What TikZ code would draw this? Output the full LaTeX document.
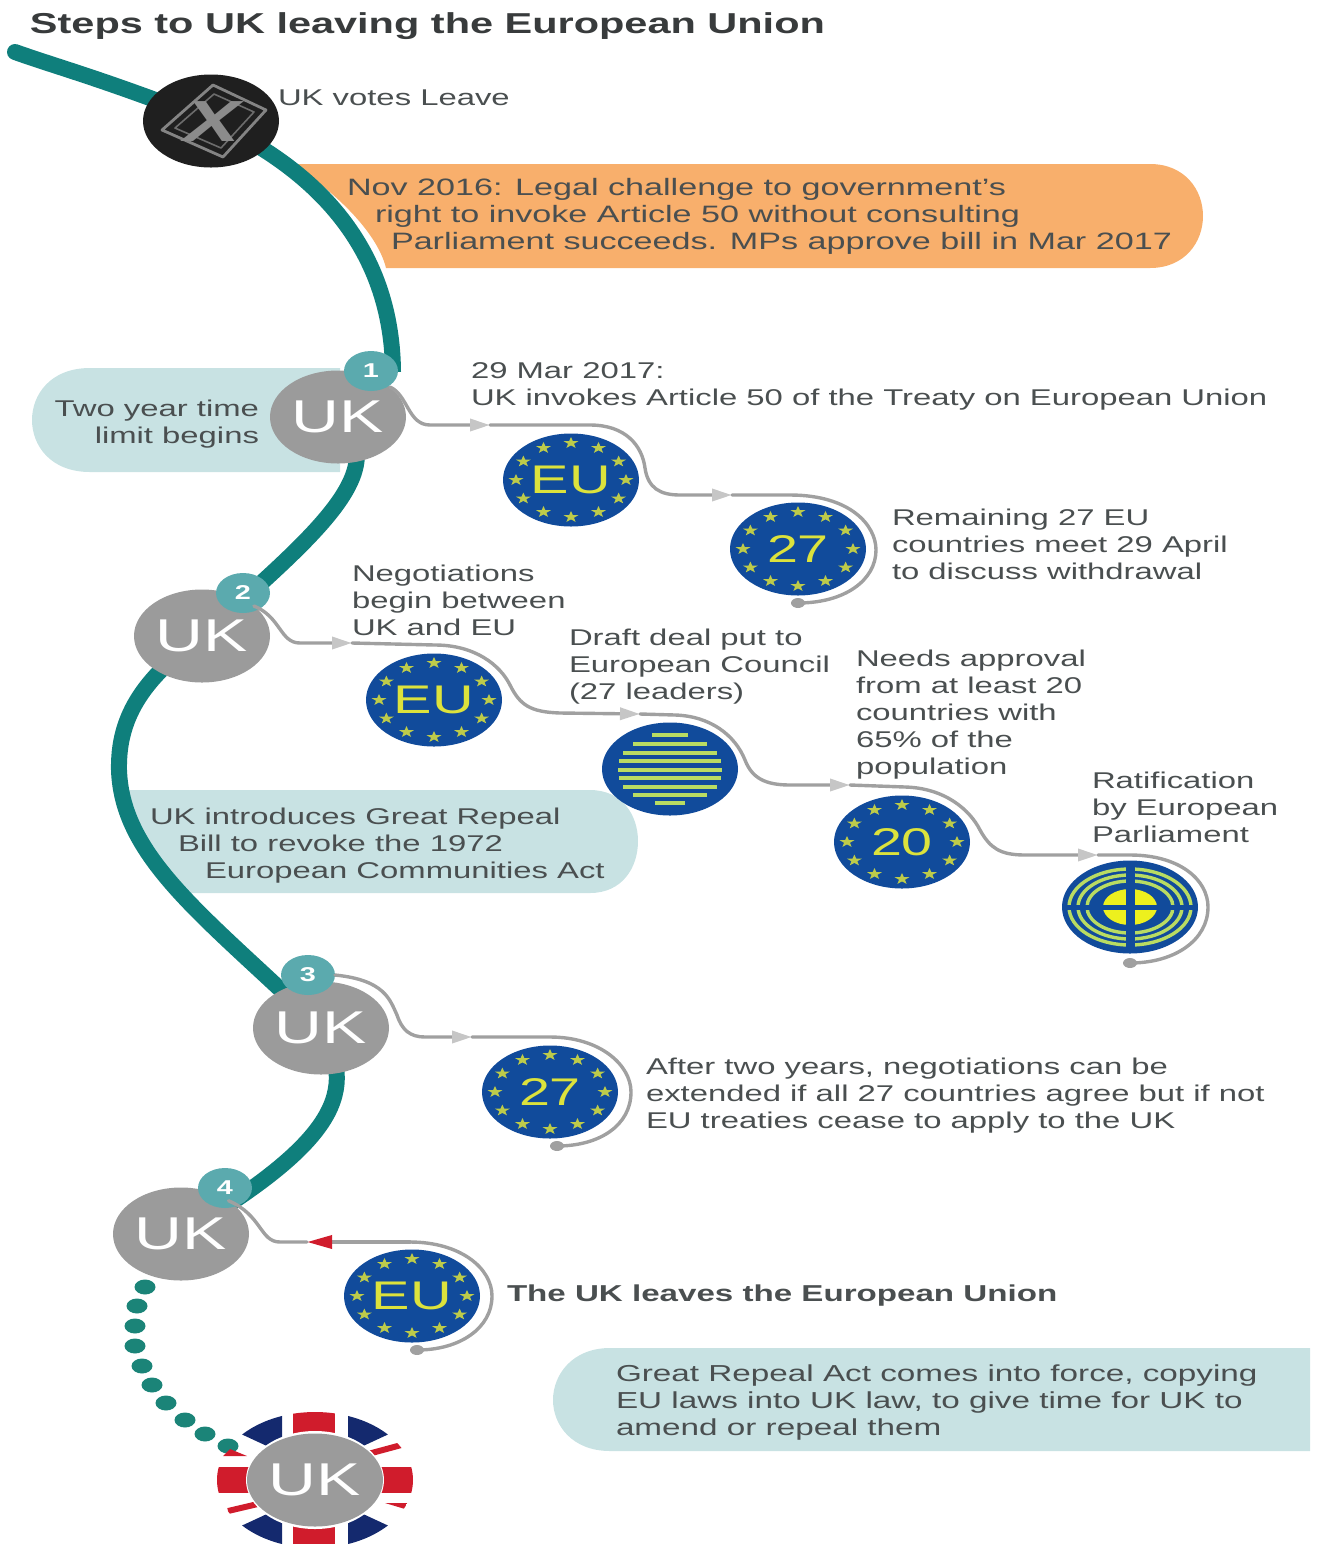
\documentclass[tikz,border=0pt]{standalone}
\usepackage{fontspec}
\setmainfont[FakeStretch=1.44]{Liberation Sans}
\usetikzlibrary{shapes.geometric,arrows.meta}
\definecolor{teal1}{HTML}{0F7F7C}
\definecolor{tealdot}{HTML}{1B8478}
\definecolor{badge}{HTML}{5BAAAE}
\definecolor{ukgrey}{HTML}{9B9B9B}
\definecolor{pale}{HTML}{C8E2E3}
\definecolor{orangeb}{HTML}{F8AF6C}
\definecolor{eublue}{HTML}{114B9B}
\definecolor{euyel}{HTML}{DCE23C}
\definecolor{stripe}{HTML}{B9DC62}
\definecolor{txt}{HTML}{4A4F50}
\definecolor{conn}{HTML}{A0A0A0}
\definecolor{navy}{HTML}{14296E}
\definecolor{flagred}{HTML}{D01C2C}
\newcommand{\eustars}[2]{%
  \foreach \a in {0,30,...,330}{%
    \begin{scope}[shift={(#1,#2)}]
      \begin{scope}[shift={(\a:55 and 37)},xscale=1.3]
        \fill[euyel!85!eublue] (-90:6) -- (-54:2.4) -- (-18:6) -- (18:2.4) -- (54:6) -- (90:2.4) -- (126:6) -- (162:2.4) -- (198:6) -- (234:2.4) -- cycle;
      \end{scope}
    \end{scope}}}
\tikzset{
  every node/.style={inner sep=0pt,outer sep=0pt},
  body/.style={font=\fontsize{11.4}{13.5}\selectfont,text=txt,align=left,anchor=west},
  bodyr/.style={body,align=right,anchor=east},
  disc/.style={ellipse,minimum width=68pt,minimum height=46.5pt},
  ukn/.style={disc,fill=ukgrey,text=white,font=\fontsize{23}{23}\selectfont},
  eun/.style={disc,fill=eublue,text=euyel,font=\fontsize{20}{20}\selectfont},
  numn/.style={disc,fill=eublue,text=euyel,font=\fontsize{19.3}{19.3}\selectfont},
  badgen/.style={ellipse,minimum width=27pt,minimum height=20pt,fill=badge,text=white,font=\bfseries\fontsize{10}{10}\selectfont},
  mainline/.style={draw=teal1,line width=8pt},
  connector/.style={draw=conn,line width=1.7pt,line cap=round},
  head/.style={-{Triangle[length=10pt,width=6pt,color=#1]}},
  head/.default={conn!60},
  redhead/.style={-{Triangle[length=12.5pt,width=6.5pt,color=flagred]}}
}
\begin{document}
\begin{tikzpicture}[x=0.5pt,y=-0.5pt]
\useasboundingbox (0,0) rectangle (1336,1544);
% pale and orange bands
\fill[orangeb] (292,164) -- (1150,164) .. controls (1185,164) and (1203,190) .. (1203,216) .. controls (1203,242) and (1185,268) .. (1150,268) -- (386,268) .. controls (378,235) and (340,195) .. (292,164) -- cycle;
\fill[pale] (340,368) -- (90,368) .. controls (50,368) and (32,395) .. (32,420) .. controls (32,445) and (50,472) .. (90,472) -- (340,472) -- cycle;
\fill[pale] (120,790) -- (590,790) .. controls (622,790) and (638,815) .. (638,841) .. controls (638,868) and (622,893) .. (590,893) -- (190,893) .. controls (155,865) and (130,830) .. (120,790) -- cycle;
\fill[pale] (1310,1348) -- (610,1348) .. controls (572,1348) and (553,1375) .. (553,1400) .. controls (553,1425) and (572,1451) .. (610,1451) -- (1310,1451) -- cycle;
% title
\node[anchor=west,font=\bfseries\fontsize{14.4}{16}\selectfont,text=txt!75!black] (title) at (30,26.5) {Steps to UK leaving the European Union};
% main line, from the centres of the discs drawn over it
\coordinate (voteC) at (211,121);
\coordinate (uk1C) at (338,417);
\coordinate (uk2C) at (202,636);
\coordinate (uk3C) at (321,1028);
\coordinate (uk4C) at (181,1234);
\coordinate (b1C) at (393,372);
\coordinate (lineS) at (15,52);
\path[mainline,line cap=round] (lineS) .. controls (60,68) and (100,78) .. (voteC);
\path[mainline] (voteC) .. controls (300,162) and (392,235) .. (b1C);
\path[mainline] (uk1C) .. controls (395,470) and (315,535) .. (uk2C);
\path[mainline] (uk2C) .. controls (140,680) and (118,720) .. (119,770) .. controls (122,860) and (210,920) .. (uk3C);
\path[mainline] (uk3C) .. controls (357,1090) and (340,1140) .. (uk4C);
% discs
\node[disc,fill=black!88] (vote) at (voteC) {};
\draw[ukgrey!85!black,line width=1.4pt,line join=round] (213,85) -- (266,110) -- (223,157) -- (162,130) -- cycle;
\draw[ukgrey!70!black,line width=0.8pt,line join=round] (214,94) -- (254,112) -- (221,148) -- (175,128) -- cycle;
\node[font=\bfseries\itshape\fontsize{29}{29}\selectfont,text=ukgrey!90!black] (xmark) at (212,122) {X};
\node[ukn] (uk1) at (uk1C) {UK};
\node[ukn] (uk2) at (uk2C) {UK};
\node[ukn] (uk3) at (uk3C) {UK};
\node[ukn] (uk4) at (uk4C) {UK};
\node[badgen] (b1) at (371,371) {1};
\node[badgen] (b2) at (243,593) {2};
\node[badgen] (b3) at (308,975) {3};
\node[badgen] (b4) at (225,1188) {4};
% EU discs
\node[eun] (eu1) at (571,480) {EU};
\eustars{571}{480}
\node[numn] (n27a) at (798,549) {27};
\eustars{798}{549}
\node[eun] (eu2) at (434,700) {EU};
\eustars{434}{700}
\node[disc,fill=eublue] (council) at (670,769) {};
\foreach \yy/\hw in {735/18,744/37,753/47,761/51,770/52,778/51,787/47,795/37,803/15}
  \draw[stripe,line width=2pt] (670-\hw,\yy) -- (670+\hw,\yy);
\node[numn] (n20) at (902,842) {20};
\eustars{902}{842}
\node[disc,fill=eublue] (parl) at (1130,907) {};
\foreach \rx/\ry in {61/38,52/32,43/26}
  \draw[stripe,line width=1.7pt] (1130,907) ellipse [x radius=\rx,y radius=\ry];
\fill[euyel!50!yellow] (1130,907) ellipse [x radius=27,y radius=18];
\draw[eublue,line width=2.5pt] (1062,907) -- (1198,907);
\draw[eublue,line width=4.5pt] (1130,861) -- (1130,953);
\node[numn] (n27b) at (550,1092) {27};
\eustars{550}{1092}
\node[eun] (eu3) at (412,1296) {EU};
\eustars{412}{1296}
% connector waypoints
\coordinate (a1) at (490,425);
\coordinate (a2) at (732,495);
\coordinate (e1) at (798,603);
\coordinate (a3) at (352,643);
\coordinate (a4) at (640,714);
\coordinate (a5) at (850,785);
\coordinate (a6) at (1098,855);
\coordinate (e2) at (1130,963);
\coordinate (a7) at (472,1037);
\coordinate (e3) at (557,1146);
\coordinate (a8) at (307,1242);
\coordinate (a9) at (410,1242);
\coordinate (e4) at (417,1350);
% connectors
\draw[connector,head] (uk1.30) .. controls (408,395) and (408,425) .. (430,425) -- (a1);
\draw[connector,head] (a1) -- (590,425) .. controls (625,425) and (642,445) .. (645,468) .. controls (648,488) and (660,495) .. (680,495) -- (a2);
\draw[connector] (a2) -- (790,495) .. controls (850,495) and (876,525) .. (876,550) .. controls (876,580) and (845,603) .. (e1);
\draw[connector,head] (uk2.30) .. controls (281,617) and (280,643) .. (300,643) -- (a3);
\draw[connector,head] (a3) -- (435,645) .. controls (475,645) and (500,665) .. (510,685) .. controls (520,705) and (530,712) .. (560,713) -- (a4);
\draw[connector,head] (a4) -- (675,715) .. controls (710,716) and (735,735) .. (745,760) .. controls (752,778) and (765,785) .. (790,785) -- (a5);
\draw[connector,head] (a5) -- (905,787) .. controls (945,788) and (970,810) .. (980,830) .. controls (990,848) and (1000,855) .. (1025,855) -- (a6);
\draw[connector] (a6) -- (1130,855) .. controls (1180,855) and (1208,880) .. (1208,907) .. controls (1208,940) and (1175,963) .. (e2);
\draw[connector,head] (b3.east) .. controls (385,980) and (390,1000) .. (397,1015) .. controls (402,1030) and (410,1037) .. (425,1037) -- (a7);
\draw[connector] (a7) -- (550,1037) .. controls (600,1037) and (631,1065) .. (631,1092) .. controls (631,1125) and (600,1146) .. (e3);
\draw[connector,redhead] (a9) -- (a8);
\draw[connector] (a8) -- (280,1242) .. controls (260,1242) and (262,1215) .. (uk4.35);
\draw[connector] (a9) .. controls (460,1242) and (492,1268) .. (492,1296) .. controls (492,1328) and (460,1350) .. (e4);
\foreach \ee in {e1,e2,e3,e4} \fill[conn] (\ee) ellipse [x radius=7,y radius=5];
% dots
\foreach \px/\py in {145/1287,137/1306,135/1326,135/1346,142/1366,152/1385,166/1403,185/1420,205/1434,228/1446}
  \fill[tealdot] (\px,\py) ellipse [x radius=10.5,y radius=7.5];
% flag
\begin{scope}
  \clip (315,1480) ellipse [x radius=98,y radius=68];
  \fill[navy] (282,1453) -- (200,1415) -- (200,1380) -- (282,1380) -- cycle;
  \fill[navy] (348,1453) -- (430,1415) -- (430,1380) -- (348,1380) -- cycle;
  \fill[navy] (282,1507) -- (200,1545) -- (200,1580) -- (282,1580) -- cycle;
  \fill[navy] (348,1507) -- (430,1545) -- (430,1580) -- (348,1580) -- cycle;
  \fill[flagred] (293,1400) rectangle (335,1560);
  \fill[flagred] (200,1467) rectangle (430,1493);
  \draw[flagred,line width=3pt] (368,1454) -- (405,1444);
  \draw[flagred,line width=3pt] (228,1511) -- (262,1503);
  \fill[flagred] (223,1456) -- (247,1456) -- (230,1449) -- cycle;
  \fill[flagred] (385,1503) -- (407,1503) -- (405,1509) -- cycle;
\end{scope}
\fill[white] (315,1480) ellipse [x radius=69,y radius=49];
\node[ukn] (uk5) at (315,1480) {UK};
% texts
\node[body] (t1) at (278,98) {UK votes Leave};
\node[body,font=\fontsize{11.85}{13.5}\selectfont] (t2) at (347,216) {Nov 2016: Legal challenge to government's\\\hspace*{14pt}right to invoke Article 50 without consulting\\\hspace*{22pt}Parliament succeeds. MPs approve bill in Mar 2017};
\node[bodyr] (t3) at (259,424.5) {Two year time\\limit begins};
\node[body] (t4) at (471,386.5) {29 Mar 2017:\\UK invokes Article 50 of the Treaty on European Union};
\node[body] (t5) at (892,544) {Remaining 27 EU\\countries meet 29 April\\to discuss withdrawal};
\node[body] (t6) at (352,600) {Negotiations\\begin between\\UK and EU};
\node[body] (t7) at (569,667) {Draft deal put to\\European Council\\(27 leaders)};
\node[body] (t8) at (856,715) {Needs approval\\from at least 20\\countries with\\65\% of the\\population};
\node[body] (t9) at (1092,807) {Ratification\\by European\\Parliament};
\node[body] (t10) at (150,846) {UK introduces Great Repeal\\\hspace*{14pt}Bill to revoke the 1972\\\hspace*{27.5pt}European Communities Act};
\node[body] (t11) at (646,1096) {After two years, negotiations can be\\extended if all 27 countries agree but if not\\EU treaties cease to apply to the UK};
\node[body,font=\bfseries\fontsize{11.5}{13.5}\selectfont] (t12) at (507,1296) {The UK leaves the European Union};
\node[body,font=\fontsize{11.55}{13.5}\selectfont] (t13) at (616,1403) {Great Repeal Act comes into force, copying\\EU laws into UK law, to give time for UK to\\amend or repeal them};
\end{tikzpicture}
\end{document}
